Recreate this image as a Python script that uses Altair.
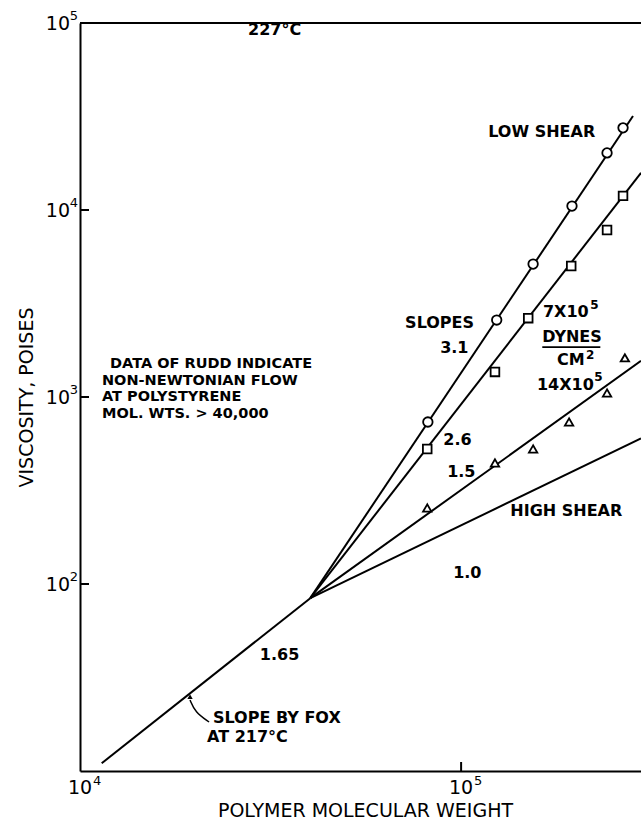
import altair as alt
import pandas as pd

# Polystyrene melt viscosity vs. molecular weight at 227 °C
# Measured points for three shear stresses
circle_mw = [81800, 124000, 154500, 195400, 241500, 266000]
circle_eta = [735, 2580, 5140, 10500, 20200, 27500]

square_mw = [81500, 122700, 150000, 194500, 241500, 266000]
square_eta = [527, 1362, 2640, 5020, 7820, 11900]

triangle_mw = [81500, 122700, 154500, 192000, 241500, 269000]
triangle_eta = [255, 444, 527, 735, 1050, 1620]

# Straight-line fits on log-log axes (end points)
fox_mw = [11400, 40200]
fox_eta = [11.0, 84.0]
low_mw = [40200, 282500]
low_eta = [84.0, 31800]
mid_mw = [40200, 296500]
mid_eta = [84.0, 15800]
s14_mw = [40200, 296500]
s14_eta = [84.0, 1560]
high_mw = [40200, 296500]
high_eta = [84.0, 600]

# Annotations: text, anchor (molecular weight, viscosity)
ann_text = ["227°C", "LOW SHEAR", "SLOPES", "3.1", "7X10", "DYNES", "CM",
            "14X10", "2.6", "1.5", "HIGH SHEAR", "1.0", "1.65",
            "SLOPE BY FOX", "AT 217°C"]
ann_mw = [27600, 117800, 71300, 88100, 164000, 163300, 178600,
          158100, 89800, 91900, 134600, 95300, 29640,
          22330, 21540]
ann_eta = [91800, 26100, 2490, 1829, 2850, 2094, 1578,
           1159, 589, 397, 245, 114.6, 41.7,
           19.2, 15.2]

# Raised exponents next to the shear-stress labels
sup_text = ["5", "2", "5"]
sup_mw = [218100, 212800, 223400]
sup_eta = [3105, 1679, 1279]

# Note about Rudd's data (left-hand block)
note_text = ["DATA OF RUDD INDICATE", "NON-NEWTONIAN FLOW", "AT POLYSTYRENE",
             "MOL. WTS. > 40,000"]
note_mw = [11990, 11420, 11420, 11420]
note_eta = [1502, 1225, 1000, 816]

# Underline under "DYNES"
under_mw = [163300, 231900]
under_eta = [1850, 1850]

# Pointer from the Fox label to the line
arrow_mw = [21810, 20040, 19440]
arrow_eta = [18.28, 20.68, 23.98]
arrow_tip_mw = [19440]
arrow_tip_eta = [25.0]

# Decade tick labels: base "10" with exponent
x_tick_vals = [10000, 100000]
x_tick_exp = ["4", "5"]
y_tick_vals = [100, 1000, 10000, 100000]
y_tick_exp = ["2", "3", "4", "5"]
inner_y_ticks = [100, 1000, 10000]
inner_x_ticks = [100000]

W, H = 561, 748
FONT = "DejaVu Sans"

xs = alt.Scale(type="log", domain=[10000, 296500], nice=False)
ys = alt.Scale(type="log", domain=[10, 100000], nice=False)

x_axis = alt.Axis(
    values=x_tick_vals, labels=False, ticks=False, tickSize=0, grid=False,
    domainColor="black", domainWidth=2,
    titleFont=FONT, titleFontSize=19, titleFontWeight="normal", titleColor="black",
    titleX=285, titleY=39, titleAlign="center", titleBaseline="middle",
)
y_axis = alt.Axis(
    values=y_tick_vals, labels=False, ticks=False, tickSize=0, grid=False,
    domainColor="black", domainWidth=2,
    titleFont=FONT, titleFontSize=19, titleFontWeight="normal", titleColor="black",
    titleX=-54, titleY=374, titleAngle=270, titleAlign="center", titleBaseline="middle",
)


def X(field):
    return alt.X(field, type="quantitative", scale=xs, axis=x_axis,
                 title="POLYMER MOLECULAR WEIGHT")


def Y(field):
    return alt.Y(field, type="quantitative", scale=ys, axis=y_axis,
                 title="VISCOSITY, POISES")


def line_rows(name, mws, etas):
    return [{"series": name, "mw": m, "eta": e, "k": i}
            for i, (m, e) in enumerate(zip(mws, etas))]


lines_df = pd.DataFrame(
    line_rows("fox", fox_mw, fox_eta)
    + line_rows("low", low_mw, low_eta)
    + line_rows("mid", mid_mw, mid_eta)
    + line_rows("s14", s14_mw, s14_eta)
    + line_rows("high", high_mw, high_eta)
)

lines = alt.Chart(lines_df).mark_line(
    color="black", strokeWidth=2, clip=True
).encode(x=X("mw"), y=Y("eta"), detail="series:N", order="k:Q")


def points(mws, etas, shape, size):
    df = pd.DataFrame({"mw": mws, "eta": etas})
    return alt.Chart(df).mark_point(
        shape=shape, size=size, filled=True, fill="white",
        stroke="black", strokeWidth=1.8, opacity=1, clip=True
    ).encode(x=X("mw"), y=Y("eta"))


circles = points(circle_mw, circle_eta, "circle", 90)
squares = points(square_mw, square_eta, "square", 75)
triangles = points(triangle_mw, triangle_eta, "triangle-up", 70)

labels = alt.Chart(
    pd.DataFrame({"text": ann_text, "mw": ann_mw, "eta": ann_eta})
).mark_text(
    align="left", baseline="middle", font=FONT, fontSize=16,
    fontWeight="bold", color="black"
).encode(x=X("mw"), y=Y("eta"), text="text:N")

sups = alt.Chart(
    pd.DataFrame({"text": sup_text, "mw": sup_mw, "eta": sup_eta})
).mark_text(
    align="left", baseline="middle", font=FONT, fontSize=12,
    fontWeight="bold", color="black"
).encode(x=X("mw"), y=Y("eta"), text="text:N")

note = alt.Chart(
    pd.DataFrame({"text": note_text, "mw": note_mw, "eta": note_eta})
).mark_text(
    align="left", baseline="middle", font=FONT, fontSize=14.5,
    fontWeight="bold", color="black"
).encode(x=X("mw"), y=Y("eta"), text="text:N")

underline = alt.Chart(
    pd.DataFrame({"mw": [under_mw[0]], "mw2": [under_mw[1]], "eta": [under_eta[0]]})
).mark_rule(color="black", strokeWidth=1.8).encode(
    x=X("mw"), x2="mw2", y=Y("eta")
)

arrow = alt.Chart(
    pd.DataFrame({"mw": arrow_mw, "eta": arrow_eta, "k": list(range(len(arrow_mw)))})
).mark_line(color="black", strokeWidth=1.5, interpolate="basis").encode(
    x=X("mw"), y=Y("eta"), order="k:Q"
)
arrow_head = alt.Chart(
    pd.DataFrame({"mw": arrow_tip_mw, "eta": arrow_tip_eta})
).mark_point(shape="triangle-up", size=28, filled=True, color="black",
             opacity=1).encode(x=X("mw"), y=Y("eta"))

# Decade labels along the axes
y_df = pd.DataFrame({"eta": y_tick_vals, "exp": y_tick_exp, "base": ["10"] * len(y_tick_vals)})
y_base = alt.Chart(y_df).mark_text(
    align="right", baseline="middle", font=FONT, fontSize=19, color="black", dy=1
).encode(y=Y("eta"), x=alt.value(-10), text="base:N")
y_exp = alt.Chart(y_df).mark_text(
    align="right", baseline="middle", font=FONT, fontSize=13, color="black", dy=-7
).encode(y=Y("eta"), x=alt.value(-2), text="exp:N")

x_df = pd.DataFrame({"mw": x_tick_vals, "exp": x_tick_exp, "base": ["10"] * len(x_tick_vals)})
x_base = alt.Chart(x_df).mark_text(
    align="center", baseline="middle", font=FONT, fontSize=19, color="black"
).encode(x=X("mw"), y=alt.value(H + 17), text="base:N")
x_exp = alt.Chart(x_df).mark_text(
    align="left", baseline="middle", font=FONT, fontSize=13, color="black", dx=13
).encode(x=X("mw"), y=alt.value(H + 10), text="exp:N")

# Inward tick marks and the top frame line
y_tick_marks = alt.Chart(pd.DataFrame({"eta": inner_y_ticks})).mark_rule(
    color="black", strokeWidth=2
).encode(y=Y("eta"), x=alt.value(0), x2=alt.value(9))
x_tick_marks = alt.Chart(pd.DataFrame({"mw": inner_x_ticks})).mark_rule(
    color="black", strokeWidth=2
).encode(x=X("mw"), y=alt.value(H), y2=alt.value(H - 9))
top_frame = alt.Chart(pd.DataFrame({"a": [0]})).mark_rule(
    color="black", strokeWidth=2
).encode(x=alt.value(0), x2=alt.value(W), y=alt.value(0))

chart = alt.layer(
    top_frame, y_tick_marks, x_tick_marks,
    lines, arrow, arrow_head, underline,
    circles, squares, triangles, labels, sups, note,
    y_base, y_exp, x_base, x_exp,
).properties(
    width=W, height=H,
    autosize=alt.AutoSizeParams(type="none"),
    padding={"left": 80, "top": 23, "right": 0, "bottom": 52},
    background="white",
).configure_view(stroke=None)

chart.save("out.html", embed_options={"renderer": "svg", "actions": False})
